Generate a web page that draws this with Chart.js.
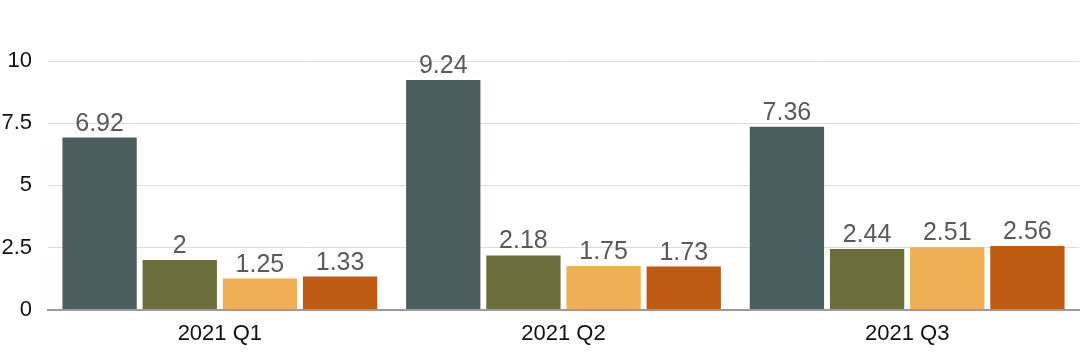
<!DOCTYPE html>
<html>
<head>
<meta charset="utf-8">
<script src="https://cdn.jsdelivr.net/npm/chart.js@4/dist/chart.umd.min.js"></script>
<style>
html,body{margin:0;padding:0;background:#fff;}
#wrap{width:1080px;height:359px;position:relative;}
</style>
</head>
<body>
<div id="wrap"><canvas id="c" width="1080" height="359"></canvas></div>
<script>
const categories = ["2021 Q1", "2021 Q2", "2021 Q3"];
const seriesA = [6.92, 9.24, 7.36];
const seriesB = [2, 2.18, 2.44];
const seriesC = [1.25, 1.75, 2.51];
const seriesD = [1.33, 1.73, 2.56];
const yTicks = [0, 2.5, 5, 7.5, 10];
const colors = ["#4a5e60", "#6b6e3b", "#f0ae55", "#c05b14"];

const labelPlugin = {
  id: 'valueLabels',
  afterDatasetsDraw(chart) {
    const ctx = chart.ctx;
    ctx.save();
    ctx.font = '25px "Liberation Sans", Arial, sans-serif';
    ctx.fillStyle = '#5a5a5a';
    ctx.textAlign = 'center';
    ctx.textBaseline = 'alphabetic';
    chart.data.datasets.forEach((ds, i) => {
      const meta = chart.getDatasetMeta(i);
      meta.data.forEach((bar, j) => {
        ctx.fillText(String(ds.data[j]), bar.x, bar.y - 7);
      });
    });
    ctx.restore();
  }
};

new Chart(document.getElementById('c'), {
  type: 'bar',
  data: {
    labels: categories,
    datasets: [
      { data: seriesA, backgroundColor: colors[0] },
      { data: seriesB, backgroundColor: colors[1] },
      { data: seriesC, backgroundColor: colors[2] },
      { data: seriesD, backgroundColor: colors[3] }
    ]
  },
  options: {
    responsive: false,
    animation: false,
    devicePixelRatio: 1,
    layout: { padding: { top: 61, right: 1, left: 0, bottom: 1 } },
    plugins: { legend: { display: false }, tooltip: { enabled: false } },
    datasets: { bar: { categoryPercentage: 0.933, barPercentage: 0.927 } },
    scales: {
      x: {
        grid: { display: false, drawTicks: false },
        border: { display: true, color: '#9a9a9a', width: 2 },
        ticks: { color: '#111', font: { size: 22, family: '"Liberation Sans", Arial, sans-serif' }, padding: 11 }
      },
      y: {
        min: 0, max: 10,
        afterBuildTicks(axis) { axis.ticks = yTicks.map(v => ({ value: v })); },
        afterFit(axis) { axis.width = 48; },
        grid: { color: '#dcdcdc', lineWidth: 1, drawTicks: false },
        border: { display: false },
        ticks: { color: '#111', font: { size: 22, family: '"Liberation Sans", Arial, sans-serif' }, padding: 16,
          callback: v => String(v) }
      }
    }
  },
  plugins: [labelPlugin]
});
</script>
</body>
</html>
